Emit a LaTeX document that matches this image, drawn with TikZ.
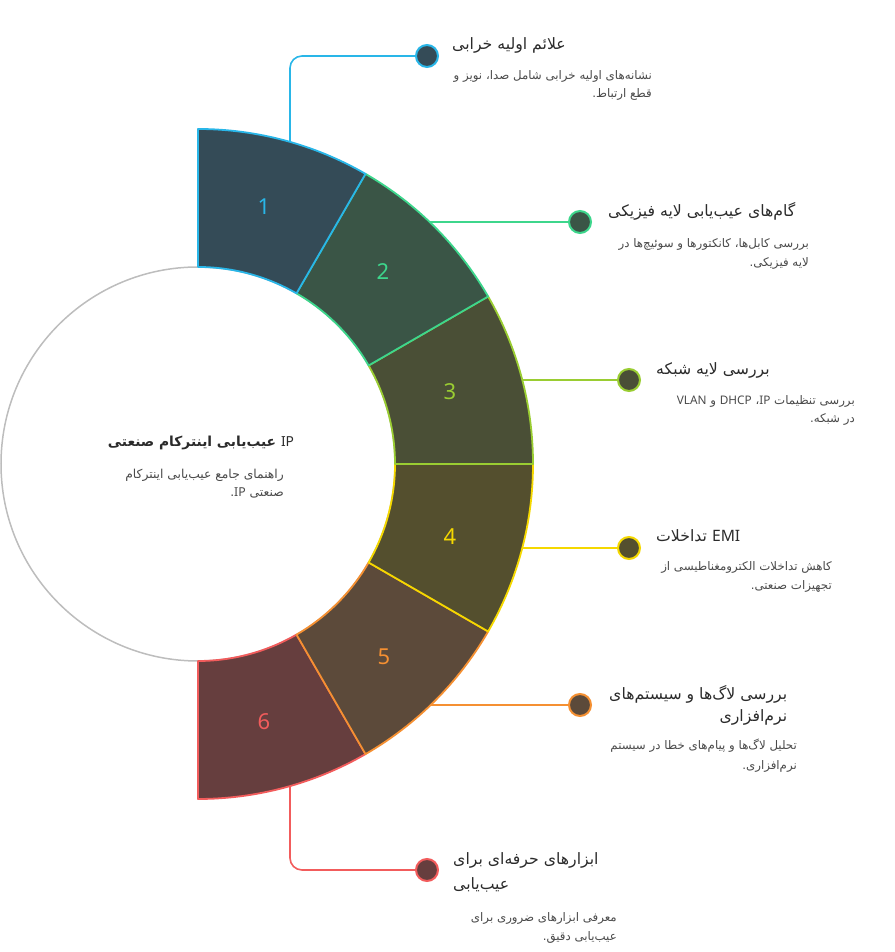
\documentclass[tikz,border=0pt]{standalone}
\usepackage{fontspec}
\setmainfont{Noto Sans}
\newfontfamily\ar[Script=Arabic]{DejaVu Sans}
\newfontfamily\lat{Noto Sans}
\TeXXeTstate=1
\usetikzlibrary{calc}
\definecolor{fA}{HTML}{344B57}\definecolor{bA}{HTML}{29B6E8}
\definecolor{fB}{HTML}{3A5546}\definecolor{bB}{HTML}{3DD68C}
\definecolor{fC}{HTML}{4A4F36}\definecolor{bC}{HTML}{9ACD32}
\definecolor{fD}{HTML}{544F2E}\definecolor{bD}{HTML}{F5D800}
\definecolor{fE}{HTML}{5C4A3A}\definecolor{bE}{HTML}{F59032}
\definecolor{fF}{HTML}{663E3E}\definecolor{bF}{HTML}{F25C5C}
\definecolor{hubgray}{HTML}{BDBDBD}
\definecolor{ttl}{HTML}{2B2B2B}
\definecolor{dsc}{HTML}{4A4A4A}
\newcommand{\segpath}[6]{%
  \filldraw[fill=#3, draw=#4, line width=1.8pt, line join=round]
    ($(C)+(#1:335pt)$) arc[start angle=#1, end angle=#2, radius=335pt]
    -- ($(C)+(#2:197pt)$) arc[start angle=#2, end angle=#1, radius=197pt] -- cycle;
  \node[numlbl, text=#4] (n#5) at ($(C)+(#6)$) {#5};}
\begin{document}
\begin{tikzpicture}[x=1pt,y=1pt,
  numlbl/.style={font=\lat\fontsize{22}{26}\selectfont, inner sep=0},
  dotnode/.style={circle, minimum size=22pt, inner sep=0, line width=2pt},
  link/.style={line width=1.6pt, rounded corners=12pt},
  ttlstyle/.style={font=\ar\fontsize{15.7}{19}\selectfont, text=ttl, inner sep=0},
  dscstyle/.style={font=\ar\fontsize{11.8}{14}\selectfont, text=dsc, inner sep=0}]
\useasboundingbox (0,0) rectangle (894,952);
\coordinate (C) at (198,488);
% hub circle
\node[circle, draw=hubgray, fill=white, line width=1.5pt, minimum size=394pt, inner sep=0] (hub) at (C) {};
% segments (drawn 6..1)
\segpath{-60}{-90}{fF}{bF}{6}{66pt,-258pt}
\segpath{-30}{-60}{fE}{bE}{5}{186pt,-193pt}
\segpath{0}{-30}{fD}{bD}{4}{252pt,-73pt}
\segpath{30}{0}{fC}{bC}{3}{252pt,72pt}
\segpath{60}{30}{fB}{bB}{2}{185pt,192pt}
\segpath{90}{60}{fA}{bA}{1}{66pt,257pt}
% connector start points on the outer arc
\coordinate (s1) at (290,810.1);
\coordinate (s2) at (430,730);
\coordinate (s3) at (522.3,572);
\coordinate (s4) at (522.3,404);
\coordinate (s5) at (430.7,247);
\coordinate (s6) at (290,165.9);
% dots
\node[dotnode, fill=fA, draw=bA] (d1) at (427,896) {};
\node[dotnode, fill=fB, draw=bB] (d2) at (580,730) {};
\node[dotnode, fill=fC, draw=bC] (d3) at (629,572) {};
\node[dotnode, fill=fD, draw=bD] (d4) at (629,404) {};
\node[dotnode, fill=fE, draw=bE] (d5) at (580,247) {};
\node[dotnode, fill=fF, draw=bF] (d6) at (427,82) {};
% connectors
\draw[link, bA] (s1) |- (d1.west);
\draw[link, bB] (s2) -- (d2.west);
\draw[link, bC] (s3) -- (d3.west);
\draw[link, bD] (s4) -- (d4.west);
\draw[link, bE] (s5) -- (d5.west);
\draw[link, bF] (s6) |- (d6.west);
% center text
\node[ttlstyle, font=\ar\bfseries\fontsize{13.8}{18}\selectfont, anchor=base] (ht) at (201,505)
  {\beginR\beginL{\lat IP}\endL{} عیب‌یابی اینترکام صنعتی\endR};
\node[dscstyle, font=\ar\fontsize{12.3}{14}\selectfont, anchor=base east] (hd1) at (284,473) {\beginR راهنمای جامع عیب‌یابی اینترکام\endR};
\node[dscstyle, font=\ar\fontsize{12.3}{14}\selectfont, anchor=base east] (hd2) at (284,455) {\beginR صنعتی \beginL{\lat IP}\endL.\endR};
% block 1
\node[ttlstyle, anchor=base west] (t1) at (452,902) {\beginR علائم اولیه خرابی\endR};
\node[dscstyle, anchor=base east] (e1a) at (652,872) {\beginR نشانه‌های اولیه خرابی شامل صدا، نویز و\endR};
\node[dscstyle, anchor=base east] (e1b) at (652,854) {\beginR قطع ارتباط.\endR};
% block 2
\node[ttlstyle, anchor=base west] (t2) at (608,735) {\beginR گام‌های عیب‌یابی لایه فیزیکی\endR};
\node[dscstyle, anchor=base east] (e2a) at (809,704) {\beginR بررسی کابل‌ها، کانکتورها و سوئیچ‌ها در\endR};
\node[dscstyle, anchor=base east] (e2b) at (809,685) {\beginR لایه فیزیکی.\endR};
% block 3
\node[ttlstyle, anchor=base west] (t3) at (656,577) {\beginR بررسی لایه شبکه\endR};
\node[dscstyle, anchor=base east] (e3a) at (855,547) {\beginR بررسی تنظیمات \beginL{\lat IP}\endL، \beginL{\lat DHCP}\endL{} و \beginL{\lat VLAN}\endL\endR};
\node[dscstyle, anchor=base east] (e3b) at (855,529) {\beginR در شبکه.\endR};
% block 4
\node[ttlstyle, anchor=base west] (t4) at (656,410) {\beginR\beginL{\lat EMI}\endL{} تداخلات\endR};
\node[dscstyle, anchor=base east] (e4a) at (832,381) {\beginR کاهش تداخلات الکترومغناطیسی از\endR};
\node[dscstyle, anchor=base east] (e4b) at (832,362) {\beginR تجهیزات صنعتی.\endR};
% block 5
\node[ttlstyle, anchor=base west] (t5a) at (609,252) {\beginR بررسی لاگ‌ها و سیستم‌های\endR};
\node[ttlstyle, anchor=base east] (t5b) at (t5a.base east |- 0,230) {\beginR نرم‌افزاری\endR};
\node[dscstyle, anchor=base east] (e5a) at (797,202) {\beginR تحلیل لاگ‌ها و پیام‌های خطا در سیستم\endR};
\node[dscstyle, anchor=base east] (e5b) at (797,182) {\beginR نرم‌افزاری.\endR};
% block 6
\node[ttlstyle, anchor=base west] (t6a) at (453,87) {\beginR ابزارهای حرفه‌ای برای\endR};
\node[ttlstyle, anchor=base west] (t6b) at (453,62) {\beginR عیب‌یابی\endR};
\node[dscstyle, anchor=base east] (e6a) at (617,30) {\beginR معرفی ابزارهای ضروری برای\endR};
\node[dscstyle, anchor=base east] (e6b) at (617,12) {\beginR عیب‌یابی دقیق.\endR};
\end{tikzpicture}
\end{document}
